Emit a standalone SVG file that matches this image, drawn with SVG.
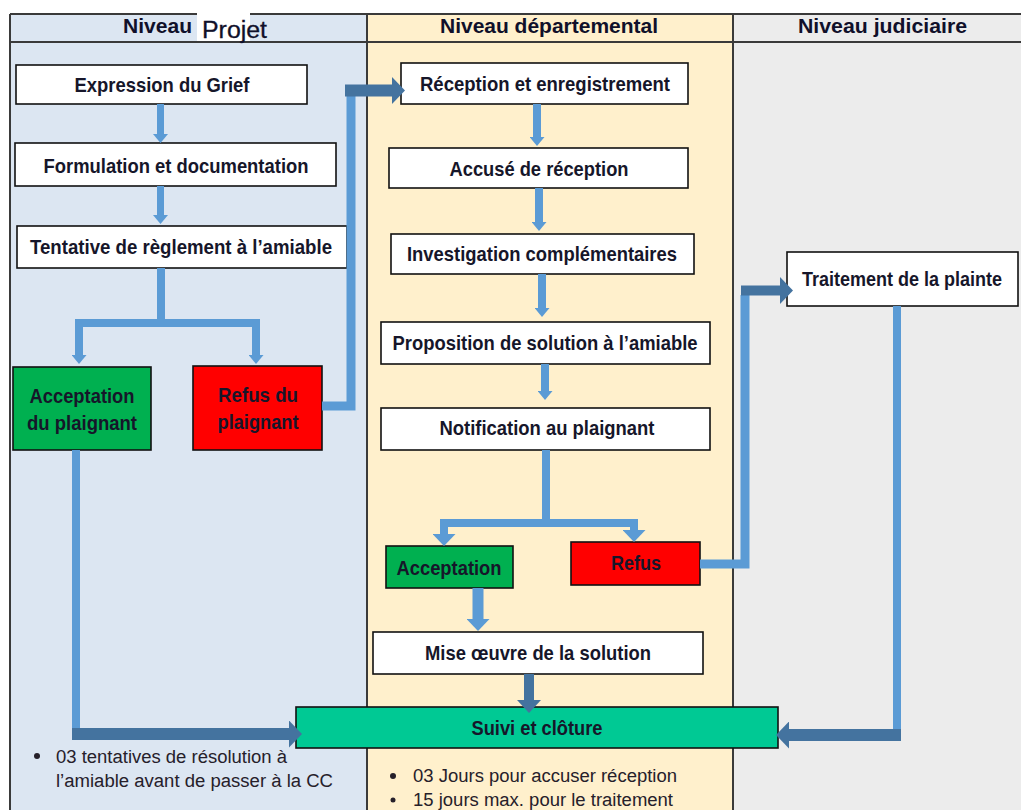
<svg xmlns="http://www.w3.org/2000/svg" width="1021" height="810" viewBox="0 0 1021 810">
  <style>
    .lane-proj { fill: #dce6f2; }
    .lane-dept { fill: #fff0cc; }
    .lane-jud { fill: #ececec; }
    .frame { stroke: #3a3a3a; stroke-width: 2; fill: none; }
    .box { fill: #ffffff; stroke: #111111; stroke-width: 1.6; }
    .ok { fill: #00b050; stroke: #111111; stroke-width: 1.6; }
    .no { fill: #ff0000; stroke: #111111; stroke-width: 1.6; }
    .close { fill: #00c994; stroke: #111111; stroke-width: 1.6; }
    .lbl { font-family: "Liberation Sans Narrow", "Arial Narrow", "Liberation Sans", Arial, sans-serif; font-weight: bold; font-size: 20.5px; fill: #16162a; text-anchor: middle; }
    .head { font-family: "Liberation Sans Narrow", "Arial Narrow", "Liberation Sans", Arial, sans-serif; font-weight: bold; font-size: 21px; fill: #10102a; }
    .note { font-family: "Liberation Sans Narrow", "Arial Narrow", "Liberation Sans", Arial, sans-serif; font-size: 18px; fill: #26202a; }
    .lt { fill: none; stroke: #5b9bd5; stroke-linejoin: miter; }
    .dk { fill: none; stroke: #44739f; stroke-linejoin: miter; }
  </style>
  <defs>
    <marker id="ah-s" markerUnits="userSpaceOnUse" markerWidth="9" markerHeight="15" viewBox="0 0 9 15" refX="0" refY="7.5" orient="auto">
      <path d="M0,0 L9,7.5 L0,15 z" fill="#5b9bd5"/>
    </marker>
    <marker id="ah-m" markerUnits="userSpaceOnUse" markerWidth="12" markerHeight="23" viewBox="0 0 12 23" refX="0" refY="11.5" orient="auto">
      <path d="M0,0 L12,11.5 L0,23 z" fill="#5b9bd5"/>
    </marker>
    <marker id="ah-d" markerUnits="userSpaceOnUse" markerWidth="13" markerHeight="24" viewBox="0 0 13 24" refX="0" refY="12" orient="auto">
      <path d="M0,0 L13,12 L0,24 z" fill="#44739f"/>
    </marker>
    <marker id="ah-l" markerUnits="userSpaceOnUse" markerWidth="13" markerHeight="27" viewBox="0 0 13 27" refX="0" refY="13.5" orient="auto">
      <path d="M0,0 L13,13.5 L0,27 z" fill="#44739f"/>
    </marker>
  </defs>

  <!-- swimlanes -->
  <g id="lanes">
    <rect x="0" y="0" width="1021" height="810" fill="#ffffff"/>
    <rect class="lane-proj" x="10" y="14" width="357" height="796"/>
    <rect class="lane-dept" x="367" y="14" width="366" height="796"/>
    <rect class="lane-jud" x="733" y="14" width="288" height="796"/>
    <path class="frame" d="M10,14 H1021 M10,14 V810 M367,14 V810 M733,14 V810"/>
    <rect x="197" y="12" width="53" height="29" fill="#ffffff"/>
    <path class="frame" d="M10,42 H1021"/>
    <text class="head" x="123" y="33" textLength="69" lengthAdjust="spacingAndGlyphs">Niveau</text>
    <text x="202" y="38" font-family="Liberation Sans, Arial, sans-serif" font-size="23" fill="#10102a" stroke="#10102a" stroke-width="0.3" textLength="65" lengthAdjust="spacingAndGlyphs">Projet</text>
    <text class="head" x="440" y="33" textLength="218" lengthAdjust="spacingAndGlyphs">Niveau départemental</text>
    <text class="head" x="798" y="33" textLength="169" lengthAdjust="spacingAndGlyphs">Niveau judiciaire</text>
  </g>

  <!-- project level -->
  <g id="expression">
    <rect class="box" x="16" y="65" width="291" height="39"/>
    <text class="lbl" x="162" y="91.5" textLength="175" lengthAdjust="spacingAndGlyphs">Expression du Grief</text>
  </g>
  <g id="formulation">
    <rect class="box" x="15" y="143" width="321" height="43"/>
    <text class="lbl" x="176" y="172.5" textLength="265" lengthAdjust="spacingAndGlyphs">Formulation et documentation</text>
  </g>
  <g id="tentative">
    <rect class="box" x="17" y="226" width="330" height="42"/>
    <text class="lbl" x="181" y="253.5" textLength="302" lengthAdjust="spacingAndGlyphs">Tentative de règlement à l’amiable</text>
  </g>
  <g id="acceptation-plaignant">
    <rect class="ok" x="13" y="367" width="138" height="83"/>
    <text class="lbl" x="82" y="402.5" textLength="105" lengthAdjust="spacingAndGlyphs">Acceptation</text>
    <text class="lbl" x="82" y="429.5" textLength="110" lengthAdjust="spacingAndGlyphs">du plaignant</text>
  </g>
  <g id="refus-plaignant">
    <rect class="no" x="193" y="366" width="129" height="84"/>
    <text class="lbl" x="258" y="401.5" textLength="80" lengthAdjust="spacingAndGlyphs">Refus du</text>
    <text class="lbl" x="258" y="428.5" textLength="81" lengthAdjust="spacingAndGlyphs">plaignant</text>
  </g>

  <!-- departmental level -->
  <g id="reception">
    <rect class="box" x="401" y="63" width="287" height="41"/>
    <text class="lbl" x="545" y="90.5" textLength="250" lengthAdjust="spacingAndGlyphs">Réception et enregistrement</text>
  </g>
  <g id="accuse">
    <rect class="box" x="389" y="148" width="299" height="40"/>
    <text class="lbl" x="539" y="175.5" textLength="179" lengthAdjust="spacingAndGlyphs">Accusé de réception</text>
  </g>
  <g id="investigation">
    <rect class="box" x="391" y="234" width="303" height="40"/>
    <text class="lbl" x="542" y="260.5" textLength="270" lengthAdjust="spacingAndGlyphs">Investigation complémentaires</text>
  </g>
  <g id="proposition">
    <rect class="box" x="381" y="322" width="329" height="42"/>
    <text class="lbl" x="545" y="349.5" textLength="305" lengthAdjust="spacingAndGlyphs">Proposition de solution à l’amiable</text>
  </g>
  <g id="notification">
    <rect class="box" x="381" y="408" width="329" height="42"/>
    <text class="lbl" x="547" y="434.5" textLength="215" lengthAdjust="spacingAndGlyphs">Notification au plaignant</text>
  </g>
  <g id="acceptation">
    <rect class="ok" x="386" y="546" width="127" height="42"/>
    <text class="lbl" x="449" y="574.5" textLength="105" lengthAdjust="spacingAndGlyphs">Acceptation</text>
  </g>
  <g id="refus">
    <rect class="no" x="571" y="542" width="129" height="43"/>
    <text class="lbl" x="636" y="569.5" textLength="50" lengthAdjust="spacingAndGlyphs">Refus</text>
  </g>
  <g id="mise-oeuvre">
    <rect class="box" x="373" y="632" width="330" height="42"/>
    <text class="lbl" x="538" y="659.5" textLength="226" lengthAdjust="spacingAndGlyphs">Mise œuvre de la solution</text>
  </g>
  <g id="suivi-cloture">
    <rect class="close" x="296" y="707" width="482" height="41"/>
    <text class="lbl" x="537" y="734.5" textLength="131" lengthAdjust="spacingAndGlyphs">Suivi et clôture</text>
  </g>

  <!-- judicial level -->
  <g id="traitement">
    <rect class="box" x="787" y="252" width="231" height="54"/>
    <text class="lbl" x="902" y="286" font-size="19" textLength="200" lengthAdjust="spacingAndGlyphs">Traitement de la plainte</text>
  </g>

  <!-- notes -->
  <g id="notes">
    <circle cx="37" cy="756" r="3" fill="#26202a"/>
    <text class="note" x="56" y="763" textLength="231" lengthAdjust="spacingAndGlyphs">03 tentatives de résolution à</text>
    <text class="note" x="56" y="787" textLength="277" lengthAdjust="spacingAndGlyphs">l’amiable avant de passer à la CC</text>
    <circle cx="393" cy="776" r="3" fill="#26202a"/>
    <text class="note" x="413" y="782" textLength="264" lengthAdjust="spacingAndGlyphs">03 Jours pour accuser réception</text>
    <circle cx="393" cy="800" r="2.5" fill="#26202a"/>
    <text class="note" x="413" y="806" textLength="260" lengthAdjust="spacingAndGlyphs">15 jours max. pour le traitement</text>
  </g>

  <!-- connectors -->
  <g id="connectors">
    <path class="lt" stroke-width="7" d="M160.5,104 V134" marker-end="url(#ah-s)"/>
    <path class="lt" stroke-width="7" d="M160.5,186 V215" marker-end="url(#ah-s)"/>
    <path class="lt" stroke-width="8" d="M161,268 V323 H79 V355" marker-end="url(#ah-s)"/>
    <path class="lt" stroke-width="8" d="M161,323 H256 V355" marker-end="url(#ah-s)"/>
    <path class="lt" stroke-width="9" d="M322,406 H351 V96"/>
    <path class="dk" stroke-width="12" d="M345,90.5 H392" marker-end="url(#ah-l)"/>

    <path class="lt" stroke-width="8" d="M537,104 V137" marker-end="url(#ah-s)"/>
    <path class="lt" stroke-width="8" d="M539,188 V222" marker-end="url(#ah-s)"/>
    <path class="lt" stroke-width="8" d="M542,274 V308" marker-end="url(#ah-s)"/>
    <path class="lt" stroke-width="8" d="M545,364 V391" marker-end="url(#ah-s)"/>
    <path class="lt" stroke-width="8" d="M546,450 V523 H444 V534" marker-end="url(#ah-m)"/>
    <path class="lt" stroke-width="8" d="M546,523 H634 V530" marker-end="url(#ah-m)"/>
    <path class="lt" stroke-width="11" d="M478,588 V619" marker-end="url(#ah-m)"/>
    <path class="dk" stroke-width="10" d="M529,674 V700" marker-end="url(#ah-d)"/>

    <path class="lt" stroke-width="9" d="M700,564 H745 V295"/>
    <path class="dk" stroke-width="10" d="M741,290.5 H780" marker-end="url(#ah-l)"/>
    <path class="lt" stroke-width="8" d="M897,306 V731"/>
    <path class="dk" stroke-width="12" d="M901,735 H789" marker-end="url(#ah-l)"/>
    <path class="lt" stroke-width="8" d="M76,450 V730"/>
    <path class="dk" stroke-width="12" d="M72,734 H289" marker-end="url(#ah-l)"/>
  </g>
</svg>
